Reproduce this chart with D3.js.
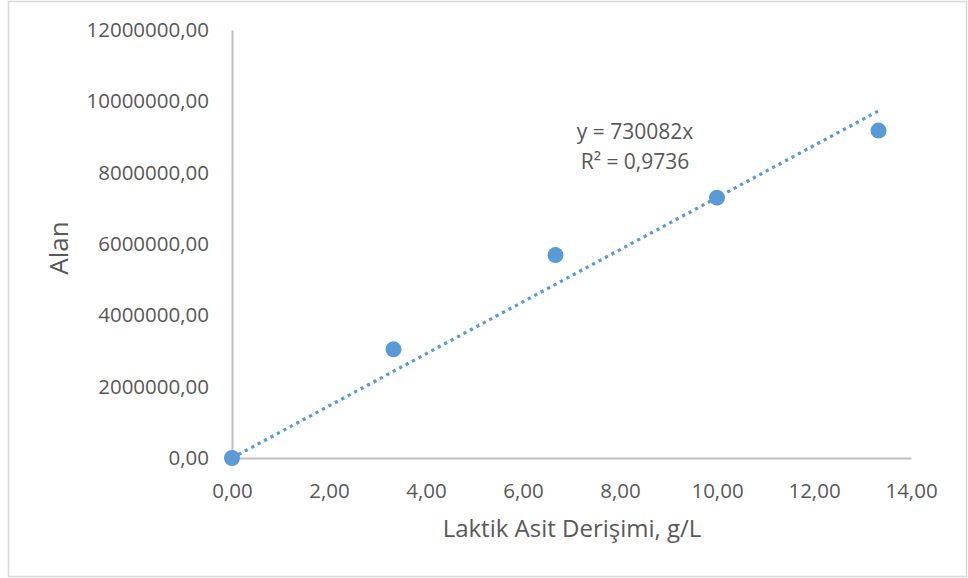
<!DOCTYPE html>
<html>
<head>
<meta charset="utf-8">
<script src="https://cdn.jsdelivr.net/npm/d3@7"></script>
<style>
  html, body { margin: 0; padding: 0; background: #fff; }
  svg { display: block; }
  text { font-family: "Open Sans", "Noto Sans", sans-serif; fill: #595959; }
</style>
</head>
<body>
<script>
const xValues = [0, 3.33, 6.67, 10.0, 13.33];
const yValues = [0, 3048000, 5690000, 7300000, 9180000];
const slope = 730082;
const equationLines = ["y = 730082x", "R² = 0,9736"];
const xTicks = [0, 2, 4, 6, 8, 10, 12, 14];
const yTicks = [0, 2000000, 4000000, 6000000, 8000000, 10000000, 12000000];
const xTitle = "Laktik Asit Derişimi, g/L";
const yTitle = "Alan";

const W = 968, H = 578;
const svg = d3.select("body").append("svg").attr("width", W).attr("height", H);

// chart border
svg.append("rect").attr("x", 8.5).attr("y", 1.5).attr("width", 958).attr("height", 575)
  .attr("fill", "#fff").attr("stroke", "#d9d9d9").attr("stroke-width", 1.5);

const x = d3.scaleLinear().domain([0, 14]).range([232, 911]);
const y = d3.scaleLinear().domain([0, 12000000]).range([458, 30]);

const fmt = v => d3.format(".2f")(v).replace(".", ",");

// x axis
const xAxis = svg.append("g").attr("transform", `translate(0,${y(0)})`)
  .call(d3.axisBottom(x).tickValues(xTicks).tickSize(0).tickPadding(25).tickFormat(fmt));
xAxis.select(".domain").attr("stroke", "#bfbfbf").attr("stroke-width", 2);
xAxis.selectAll("text").attr("font-size", 20.5).style("font-family", "'Open Sans', sans-serif").attr("fill", "#595959");

// y axis
const yAxis = svg.append("g").attr("transform", `translate(${x(0)},0)`)
  .call(d3.axisLeft(y).tickValues(yTicks).tickSize(0).tickPadding(23).tickFormat(fmt));
yAxis.select(".domain").attr("stroke", "#bfbfbf").attr("stroke-width", 2);
yAxis.selectAll("text").attr("font-size", 20.5).style("font-family", "'Open Sans', sans-serif").attr("fill", "#595959");

// trendline
const xmax = d3.max(xValues);
svg.append("line")
  .attr("x1", x(0)).attr("y1", y(0))
  .attr("x2", x(xmax)).attr("y2", y(slope * xmax))
  .attr("stroke", "#5b9bd5").attr("stroke-width", 3.2)
  .attr("stroke-dasharray", "3.2,4.1");

// points
svg.append("g").selectAll("circle")
  .data(xValues.map((v, i) => [v, yValues[i]]))
  .join("circle")
  .attr("cx", d => x(d[0])).attr("cy", d => y(d[1]))
  .attr("r", 8).attr("fill", "#5b9bd5");

// equation
svg.append("text").attr("x", 635).attr("y", 139).attr("text-anchor", "middle")
  .attr("font-size", 21).text(equationLines[0]);
svg.append("text").attr("x", 635).attr("y", 169).attr("text-anchor", "middle")
  .attr("font-size", 21).text(equationLines[1]);

// axis titles
svg.append("text").attr("x", 572).attr("y", 537).attr("text-anchor", "middle")
  .attr("font-size", 24).text(xTitle);
svg.append("text").attr("transform", "translate(68,248) rotate(-90)")
  .attr("text-anchor", "middle").attr("font-size", 26).text(yTitle);
</script>
</body>
</html>
